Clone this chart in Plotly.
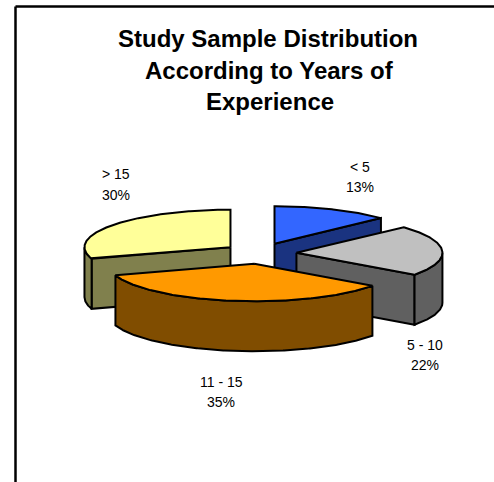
import numpy as np
import plotly.graph_objects as go

# Sample shares per experience band, clockwise from twelve o'clock
categories = ["< 5", "5 - 10", "11 - 15", "> 15"]
shares = [13, 22, 35, 30]
top_colors = ["#3366FF", "#C0C0C0", "#FF9900", "#FFFF99"]
side_colors = ["#1A3380", "#606060", "#804D00", "#80804D"]
title_lines = ["Study Sample Distribution", "According to Years of", "Experience"]

WIDTH, HEIGHT = 494, 482
CX, CY = 260.0, 253.4      # pie centre
RX, RY = 146.0, 37.5       # projected ellipse radii
DEPTH = 50                 # extruded wall height
EXPLODE_X, EXPLODE_Y = 36.5, 10.5
EDGE = dict(color="#000000", width=2)

# Label centres for each band: (x, first line y, second line y)
label_places = [(360, 167, 187), (425, 345, 365), (221, 382, 402), (116, 174, 195)]
title_places = [(268, 38), (269.5, 70.5), (269.5, 101)]


def rim(a0, a1, ox, oy, drop=0.0):
    """Points along the ellipse rim between two clockwise angles in degrees."""
    t = np.radians(np.linspace(a0, a1, max(int(abs(a1 - a0)) * 2, 2)))
    return ox + RX * np.sin(t), oy - RY * np.cos(t) + drop


def polygon(fig, xs, ys, color):
    fig.add_trace(go.Scatter(
        x=list(xs), y=list(ys), mode="lines", fill="toself", fillcolor=color,
        line=EDGE, hoverinfo="skip", showlegend=False,
    ))


def radial_face(fig, angle, ox, oy, color):
    ex, ey = rim(angle, angle, ox, oy)
    polygon(fig,
            [ox, ex[0], ex[0], ox, ox],
            [oy, ey[0], ey[0] + DEPTH, oy + DEPTH, oy],
            color)


# Work out each slice's angular span and exploded origin from the data
total = sum(shares)
slices = []
start = 0.0
for i, share in enumerate(shares):
    end = start + 360.0 * share / total
    mid = np.radians((start + end) / 2)
    slices.append(dict(
        start=start, end=end,
        ox=CX + EXPLODE_X * np.sin(mid),
        oy=CY - EXPLODE_Y * np.cos(mid),
        top=top_colors[i], side=side_colors[i],
    ))
    start = end

fig = go.Figure()

# Painter's order: rearmost slices first, the front slice last
for s in sorted(slices, key=lambda s: s["oy"]):
    a0, a1, ox, oy = s["start"], s["end"], s["ox"], s["oy"]
    # Only cut faces that turn toward the viewer are drawn
    if np.sin(np.radians(a1)) > 1e-6:
        radial_face(fig, a1, ox, oy, s["side"])
    if np.sin(np.radians(a0)) < -1e-6:
        radial_face(fig, a0, ox, oy, s["side"])
    # Outer wall covers the part of the rim on the near half of the ellipse
    w0, w1 = max(a0, 90.0), min(a1, 270.0)
    if w1 > w0:
        ux, uy = rim(w0, w1, ox, oy)
        lx, ly = rim(w1, w0, ox, oy, DEPTH)
        polygon(fig, np.r_[ux, lx, ux[0]], np.r_[uy, ly, uy[0]], s["side"])
    # Top surface
    tx, ty = rim(a0, a1, ox, oy)
    polygon(fig, np.r_[ox, tx, ox], np.r_[oy, ty, oy], s["top"])

annotations = []
for (x, y), line in zip(title_places, title_lines):
    annotations.append(dict(
        x=x, y=y, text=f"<b>{line}</b>", showarrow=False, xref="x", yref="y",
        font=dict(family="Liberation Sans", size=24, color="#000000"),
    ))
for (x, y1, y2), name, share in zip(label_places, categories, shares):
    for y, text in ((y1, name), (y2, f"{share}%")):
        annotations.append(dict(
            x=x, y=y, text=text, showarrow=False, xref="x", yref="y",
            font=dict(family="Liberation Sans", size=14, color="#000000"),
        ))

frame = dict(type="line", xref="x", yref="y", line=dict(color="#000000", width=2.5))

fig.update_layout(
    width=WIDTH, height=HEIGHT, autosize=False,
    margin=dict(l=0, r=0, t=0, b=0),
    paper_bgcolor="#FFFFFF", plot_bgcolor="#FFFFFF",
    xaxis=dict(range=[0, WIDTH], visible=False, fixedrange=True),
    yaxis=dict(range=[HEIGHT, 0], visible=False, fixedrange=True),
    annotations=annotations,
    shapes=[
        dict(frame, x0=15.5, x1=15.5, y0=6.5, y1=HEIGHT),
        dict(frame, x0=15.5, x1=WIDTH, y0=6.5, y1=6.5),
    ],
)

fig.write_html("out.html")
